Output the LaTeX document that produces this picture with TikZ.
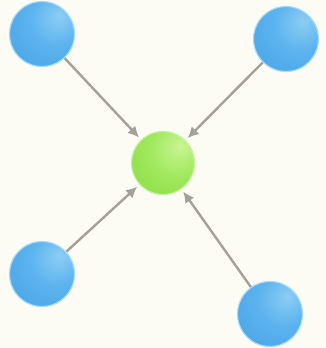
\documentclass[tikz,border=0pt]{standalone}
\usetikzlibrary{arrows.meta}
\definecolor{bg}{HTML}{FCFCF5}
\definecolor{arrgray}{HTML}{A5A199}
\definecolor{bluehi}{HTML}{8CCEF4}
\definecolor{bluemid}{HTML}{5CB3EE}
\definecolor{bluelo}{HTML}{4AA5E6}
\definecolor{bluerim}{HTML}{A8DCF8}
\definecolor{greenhi}{HTML}{CAF595}
\definecolor{greenmid}{HTML}{A2E960}
\definecolor{greenlo}{HTML}{8CDE44}
\definecolor{greenrim}{HTML}{C6F39A}
\pgfdeclareradialshading{blueball}{\pgfpoint{14bp}{14bp}}{%
  color(0bp)=(bluehi);color(20bp)=(bluemid);color(42bp)=(bluelo);color(80bp)=(bluelo)}
\pgfdeclareradialshading{greenball}{\pgfpoint{14bp}{14bp}}{%
  color(0bp)=(greenhi);color(20bp)=(greenmid);color(42bp)=(greenlo);color(80bp)=(greenlo)}
\tikzset{
  ball/.style={circle, minimum size=65pt, inner sep=0pt, line width=1.2pt},
  blueb/.style={ball, shading=blueball, draw=bluerim},
  greenb/.style={ball, minimum size=63pt, shading=greenball, draw=greenrim},
  arr/.style={draw=arrgray, line width=2.4pt, -{Latex[length=11pt,width=11pt]}, shorten >=3pt}
}
\begin{document}
\begin{tikzpicture}[x=1pt,y=-1pt]
\fill[bg] (0,0) rectangle (326,348);
\useasboundingbox (0,0) rectangle (326,348);
\node[blueb] (tl) at (42,34) {};
\node[blueb] (tr) at (286,39) {};
\node[blueb] (bl) at (42,274) {};
\node[blueb] (br) at (270,314) {};
\node[greenb] (c) at (163,163) {};
\draw[arr] (tl) -- (c);
\draw[arr] (tr) -- (c);
\draw[arr] (bl) -- (c);
\draw[arr] (br) -- (c);
\end{tikzpicture}
\end{document}
